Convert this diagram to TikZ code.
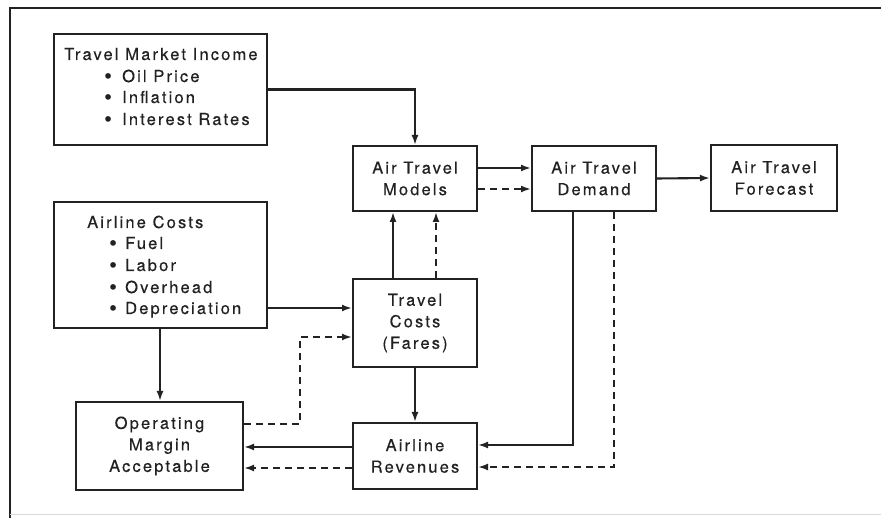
\documentclass[tikz,border=0pt]{standalone}
\usepackage{fontspec}
\setmainfont{TeX Gyre Heros}[LetterSpace=13, FakeBold=0.4]
\usetikzlibrary{arrows.meta}
\definecolor{ink}{HTML}{222222}
% bullet mark followed by a fixed indent
\newcommand\itemmark[1]{\makebox[#1][l]{\raisebox{-1.5pt}{\fontsize{22}{22}\selectfont •}}}

\begin{document}
\begin{tikzpicture}[x=1pt,y=-1pt,
  every node/.style={font=\fontsize{16.5}{21.5}\selectfont, text=ink},
  box/.style={draw=ink, line width=2pt, inner sep=0pt, align=center},
  lbl/.style={anchor=base west, inner sep=0pt},
  flow/.style={draw=ink, line width=2.1pt, -{Latex[length=10pt,width=7pt]}},
  back/.style={flow, dash pattern=on 7pt off 5pt},
]
\useasboundingbox (0,0) rectangle (881,518);

% page frame
\draw[ink, line width=2.8pt] (10,518) -- (10,8) -- (881,8);
\draw[black!15, line width=1pt] (10,514) -- (881,514);

% boxes
\node[box, minimum width=213pt, minimum height=111pt] (tmi) at (160,89.5) {};
\node[box, minimum width=213pt, minimum height=126pt] (ac)  at (160,265) {};
\node[box, minimum width=124pt, minimum height=65pt] (atm) at (415,178.5) {Air Travel\\Models};
\node[box, minimum width=124pt, minimum height=65pt] (atd) at (594,178.5) {Air Travel\\Demand};
\node[box, minimum width=126pt, minimum height=66pt] (atf) at (774,178) {Air Travel\\Forecast};
\node[box, minimum width=124pt, minimum height=88pt] (tc)  at (415,323) {Travel\\Costs\\(Fares)};
\node[box, minimum width=124pt, minimum height=66pt] (ar)  at (415,456) {Airline\\Revenues};
\node[box, minimum width=167pt, minimum height=88pt] (oma) at (159.5,446) {Operating\\Margin\\Acceptable};

% list texts
\node[lbl] (tmi0) at (64,60)   {Travel Market Income};
\node[lbl] (tmi1) at (104,82)  {\itemmark{18pt}Oil Price};
\node[lbl] (tmi2) at (104,103) {\itemmark{18pt}Inflation};
\node[lbl] (tmi3) at (104,125) {\itemmark{18pt}Interest Rates};

\node[lbl] (ac0) at (87,228)  {Airline Costs};
\node[lbl] (ac1) at (109,249) {\itemmark{16pt}Fuel};
\node[lbl] (ac2) at (109,271) {\itemmark{16pt}Labor};
\node[lbl] (ac3) at (109,293) {\itemmark{16pt}Overhead};
\node[lbl] (ac4) at (109,314) {\itemmark{16pt}Depreciation};

% connectors
\draw[flow] (tmi.east) -| (atm.north);
\draw[flow] ([yshift=10.5pt]atm.east) -- ([yshift=10.5pt]atd.west);
\draw[back] ([yshift=-10.5pt]atm.east) -- ([yshift=-10.5pt]atd.west);
\draw[flow] (atd.east) -- (atf.west);
\draw[flow] ([xshift=-22pt]tc.north) -- ([xshift=-22pt]atm.south);
\draw[back] ([xshift=21pt]tc.north) -- ([xshift=21pt]atm.south);
\draw[flow] ([yshift=-43pt]ac.east) -- ([yshift=15pt]tc.west);
\draw[back] ([yshift=22pt]oma.east) -- ++(56,0) |- ([yshift=-14pt]tc.west);
\draw[flow] (ac.south) -- (ac.south |- oma.north);
\draw[flow] (tc.south) -- (ar.north);
\draw[flow] ([yshift=9pt]ar.west) -- ([yshift=-1pt]oma.east);
\draw[back] ([yshift=-12pt]ar.west) -- ([yshift=-22pt]oma.east);
\draw[flow] ([xshift=-21pt]atd.south) |- ([yshift=11pt]ar.east);
\draw[back] ([xshift=20pt]atd.south) |- ([yshift=-11pt]ar.east);
\end{tikzpicture}
\end{document}
